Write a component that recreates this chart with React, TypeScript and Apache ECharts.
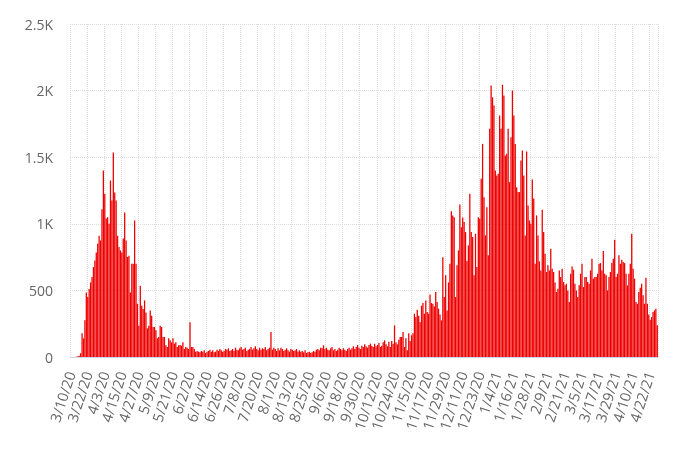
import React, { useEffect, useRef } from "react";
import * as echarts from "echarts";

// Daily values, 3/10/20 .. 4/27/21
const wave1 = [
  0, 0, 0, 0, 2, 5, 10, 28, 178, 140, 275, 485, 450, 510, 560, 600, 675, 725, 785, 850,
  910, 875, 1110, 1400, 1225, 1040, 1050, 1000, 1325, 1175, 1535, 1235, 1175, 910, 825, 800, 785, 890, 1085, 875,
  750, 760, 485, 700, 700, 1025, 700, 400, 235, 535, 385, 360, 425, 335, 215, 235, 350, 310, 225, 225,
  200, 140, 150, 235, 225, 150, 150, 88, 75, 140, 125, 110, 140, 100, 110, 75, 88, 90, 85, 110,
  60, 75, 70, 60, 260, 75, 75,
];
const juneJuly = [
  60, 40, 45, 40, 35, 45, 40, 50, 30, 40, 45, 55, 40,
  50, 35, 40, 55, 45, 60, 50, 40, 45, 60, 55, 65, 45,
  50, 60, 45, 70, 55, 50, 65, 75, 55, 60, 70, 45, 55,
  60, 75, 55, 65, 80, 60, 50, 70, 55, 65, 60, 75, 50, 60, 70,
];
const augSept = [
  188,
  55, 70, 60, 45, 65, 50, 70, 60, 45, 55, 65, 50, 40, 60, 55, 45, 50, 60, 40,
  50, 40, 45, 35, 50, 30, 35, 40, 30, 35, 45, 40, 55, 60, 50, 70, 65,
  88,
  60, 70, 55, 50, 65, 75, 50, 60, 45, 55, 70, 60, 50, 65, 55, 45, 60,
];
const october = [
  70, 55, 65, 80, 60, 75, 90, 70, 60, 85, 75, 95, 80, 70, 90, 100, 85, 75, 100, 80,
  90, 105, 75, 85, 110, 125, 95, 80, 115, 75, 120, 100, 237, 110, 95, 130,
];
const novDec = [
  150, 150, 188, 75, 140, 50, 178, 120, 163, 178, 325, 300, 355, 310, 263, 385, 405, 325, 425, 338,
  325, 470, 405, 400, 380, 488, 413, 363, 320, 275, 748, 450, 613, 350, 560, 700, 1095, 1063, 1050, 450,
  688, 800, 1145, 975, 1048, 1013, 938, 720, 838, 1225, 938, 900, 613, 925, 675, 1050,
];
const winter = [
  1038, 1338, 1600, 1200, 913, 1125, 763, 1713, 2038, 1950, 1888, 1400, 1363, 1375, 1813, 1713, 2043, 1963, 1513, 1525,
  1713, 1313, 1650, 2000, 1813, 1600, 1275, 1238, 1238, 1475, 1550, 1363, 913, 1543, 1138, 1025, 1000, 1333, 1190, 700,
  1063, 913, 718, 650, 1105, 938, 775, 638, 688, 650, 813, 663, 638, 560, 488, 513, 650, 600, 663, 563,
  538, 550, 500, 413,
];
const spring = [
  625, 680, 655, 550, 500, 450, 538, 625, 700, 525, 600, 600, 563, 550, 650, 738, 588, 600, 600, 625,
  700, 705, 650, 795, 625, 613, 500, 600, 638, 705, 738, 880, 600, 625, 763, 700, 730, 713, 705, 625,
  538, 625, 700, 925, 663, 588, 413, 400, 488, 520, 550, 463, 400, 595, 400, 320, 280, 300, 338, 350,
  363, 238,
];

const values = [...wave1, ...juneJuly, ...augSept, ...october, ...novDec, ...winter, ...spring];

const startDate = new Date(2020, 2, 10);
const categories = values.map((_, i) => {
  const d = new Date(startDate.getFullYear(), startDate.getMonth(), startDate.getDate() + i);
  return `${d.getMonth() + 1}/${d.getDate()}/${String(d.getFullYear()).slice(2)}`;
});

const yTicks: Record<number, string> = { 0: "0", 500: "500", 1000: "1K", 1500: "1.5K", 2000: "2K", 2500: "2.5K" };

export default function App() {
  const ref = useRef<HTMLDivElement>(null);
  useEffect(() => {
    if (!ref.current) return;
    const chart = echarts.init(ref.current, undefined, { renderer: "svg" });
    chart.setOption({
      animation: false,
      grid: { left: 70, right: 22, top: 24, bottom: 96, containLabel: false },
      xAxis: {
        type: "category",
        data: categories,
        boundaryGap: true,
        axisLine: { show: true, lineStyle: { color: "#ccd6eb" } },
        axisTick: { show: false },
        axisLabel: {
          interval: 11,
          rotate: 72,
          margin: 15,
          color: "#666666",
          fontSize: 14.5,
          fontFamily: "Open Sans",
        },
        splitLine: {
          show: true,
          interval: 11,
          lineStyle: { color: "#dcdcdc", type: "dotted", width: 1 },
        },
      },
      yAxis: {
        type: "value",
        min: 0,
        max: 2500,
        interval: 500,
        axisLine: { show: false },
        axisTick: { show: false },
        axisLabel: {
          margin: 17,
          color: "#666666",
          fontSize: 14,
          fontFamily: "Open Sans",
          formatter: (v: number) => yTicks[v] ?? String(v),
        },
        splitLine: { show: true, lineStyle: { color: "#dcdcdc", type: "dotted", width: 1 } },
      },
      series: [
        {
          type: "bar",
          data: values,
          barCategoryGap: "10%",
          itemStyle: { color: "#ee0000" },
        },
      ],
    });
    return () => chart.dispose();
  }, []);
  return <div ref={ref} style={{ position: "fixed", left: 0, top: 0, width: 680, height: 453 }} />;
}
